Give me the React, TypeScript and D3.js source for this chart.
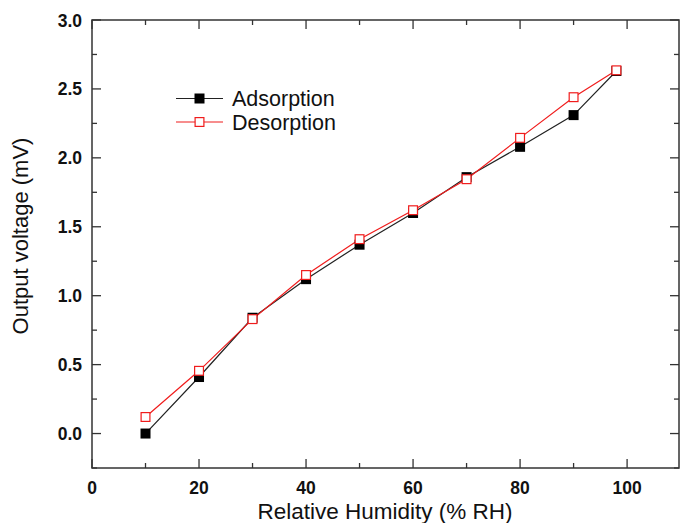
import React from "react";
import * as d3 from "d3";

const humidity = [10, 20, 30, 40, 50, 60, 70, 80, 90, 98];
const adsorption = [0.0, 0.41, 0.84, 1.12, 1.37, 1.6, 1.86, 2.08, 2.31, 2.63];
const desorption = [0.12, 0.455, 0.83, 1.15, 1.41, 1.62, 1.845, 2.145, 2.44, 2.635];
const xTicks = [0, 20, 40, 60, 80, 100];
const xMinor = [10, 30, 50, 70, 90];
const yTicks = [0.0, 0.5, 1.0, 1.5, 2.0, 2.5, 3.0];
const yMinor = [-0.25, 0.25, 0.75, 1.25, 1.75, 2.25, 2.75];

const W = 680, H = 523;
const L = 92, R = 679, T = 20, B = 468;
const font = "'Liberation Sans', Arial, sans-serif";

export default function App() {
  const x = d3.scaleLinear().domain([0, 109.7]).range([L, R]);
  const y = d3.scaleLinear().domain([-0.25, 3.0]).range([B, T]);
  const line = d3.line<[number, number]>().x(d => x(d[0])).y(d => y(d[1]));
  const adsPts = humidity.map((h, i) => [h, adsorption[i]] as [number, number]);
  const desPts = humidity.map((h, i) => [h, desorption[i]] as [number, number]);
  const ms = 10;
  const axisColor = "#333";
  return (
    <svg width={W} height={H} style={{ position: "absolute", left: 0, top: 0, background: "#fff" }}>
      <rect x={L} y={T} width={R - L} height={B - T} fill="none" stroke={axisColor} strokeWidth={1.5} />
      {xTicks.map(t => (
        <g key={"xt" + t}>
          <line x1={x(t)} x2={x(t)} y1={B} y2={B - 9} stroke={axisColor} strokeWidth={1.3} />
          <line x1={x(t)} x2={x(t)} y1={T} y2={T + 9} stroke={axisColor} strokeWidth={1.3} />
          <text x={x(t)} y={B + 26} textAnchor="middle" fontFamily={font} fontWeight="bold" fontSize={17.5} fill="#111">{t}</text>
        </g>
      ))}
      {xMinor.map(t => (
        <g key={"xm" + t}>
          <line x1={x(t)} x2={x(t)} y1={B} y2={B - 5} stroke={axisColor} strokeWidth={1.3} />
          <line x1={x(t)} x2={x(t)} y1={T} y2={T + 5} stroke={axisColor} strokeWidth={1.3} />
        </g>
      ))}
      {yTicks.map(t => (
        <g key={"yt" + t}>
          <line x1={L} x2={L + 9} y1={y(t)} y2={y(t)} stroke={axisColor} strokeWidth={1.3} />
          <line x1={R} x2={R - 9} y1={y(t)} y2={y(t)} stroke={axisColor} strokeWidth={1.3} />
          <text x={L - 10} y={y(t) + 6.5} textAnchor="end" fontFamily={font} fontWeight="bold" fontSize={17.5} fill="#111">{t.toFixed(1)}</text>
        </g>
      ))}
      {yMinor.map(t => (
        <g key={"ym" + t}>
          <line x1={L} x2={L + 5} y1={y(t)} y2={y(t)} stroke={axisColor} strokeWidth={1.3} />
          <line x1={R} x2={R - 5} y1={y(t)} y2={y(t)} stroke={axisColor} strokeWidth={1.3} />
        </g>
      ))}
      <path d={line(adsPts) || ""} fill="none" stroke="#222" strokeWidth={1.2} />
      <path d={line(desPts) || ""} fill="none" stroke="#f01c1c" strokeWidth={1.2} />
      {adsPts.map((p, i) => (
        <rect key={"a" + i} x={x(p[0]) - ms / 2} y={y(p[1]) - ms / 2} width={ms} height={ms} fill="#000" />
      ))}
      {desPts.map((p, i) => (
        <rect key={"d" + i} x={x(p[0]) - ms / 2 + 0.6} y={y(p[1]) - ms / 2 + 0.6} width={ms - 1.2} height={ms - 1.2} fill="#fff" stroke="#f01c1c" strokeWidth={1.2} />
      ))}
      <g>
        <line x1={176} x2={223} y1={98.5} y2={98.5} stroke="#222" strokeWidth={1.2} />
        <rect x={199.5 - ms / 2} y={98.5 - ms / 2} width={ms} height={ms} fill="#000" />
        <text x={232} y={106} fontFamily={font} fontSize={21.5} fill="#111">Adsorption</text>
        <line x1={176} x2={223} y1={122} y2={122} stroke="#f01c1c" strokeWidth={1.2} />
        <rect x={199.5 - ms / 2 + 0.6} y={122 - ms / 2 + 0.6} width={ms - 1.2} height={ms - 1.2} fill="#fff" stroke="#f01c1c" strokeWidth={1.2} />
        <text x={232} y={129.5} fontFamily={font} fontSize={21.5} fill="#111">Desorption</text>
      </g>
      <text x={385} y={519} textAnchor="middle" fontFamily={font} fontSize={22.5} fill="#111">Relative Humidity (% RH)</text>
      <text transform={`translate(28, 236) rotate(-90)`} textAnchor="middle" fontFamily={font} fontSize={22} fill="#111">Output voltage (mV)</text>
    </svg>
  );
}
